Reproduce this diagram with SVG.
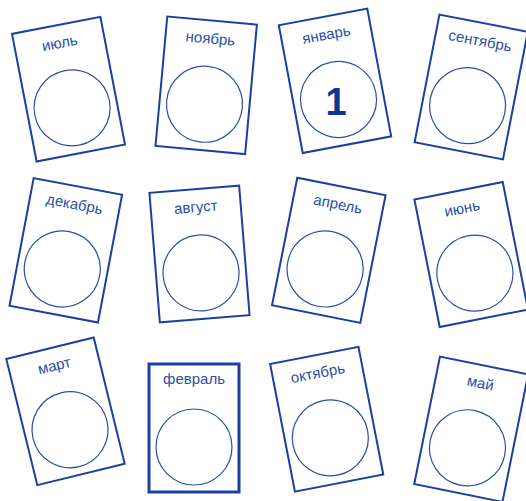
<svg xmlns="http://www.w3.org/2000/svg" width="526" height="501" viewBox="0 0 526 501">
<style>
.card{fill:#fff;stroke:#1c40a0;stroke-width:2}
.bold{stroke-width:3}
.dial{fill:none;stroke:#2a4ea8;stroke-width:1.2}
.lbl{font-family:"Liberation Sans",Arial,sans-serif;font-size:15px;fill:#2a4ea8;text-anchor:middle}
.num{font-family:"Liberation Sans",Arial,sans-serif;font-size:38px;font-weight:bold;fill:#0d3596;text-anchor:middle}
</style>
<defs>
<g id="face">
<rect class="card" x="-45" y="-65" width="90" height="130"/>
<circle class="dial" cx="0" cy="19" r="38"/>
</g>
</defs>
<rect width="526" height="501" fill="#fff"/>
<g id="iyul" transform="translate(68.5,89.2) rotate(-10.9)"><use href="#face"/><text class="lbl" x="0" y="-42">июль</text></g>
<g id="noyabr" transform="translate(206.2,85.3) rotate(5.2)"><use href="#face"/><text class="lbl" x="0" y="-42">ноябрь</text></g>
<g id="yanvar"><g transform="translate(335,80.8) rotate(-10.6)"><use href="#face"/><text class="lbl" x="0" y="-42">январь</text></g><text class="num" x="336" y="115">1</text></g>
<g id="sentyabr" transform="translate(471.2,87) rotate(11)"><use href="#face"/><text class="lbl" x="0" y="-42">сентябрь</text></g>
<g id="dekabr" transform="translate(65.8,250.3) rotate(10.7)"><use href="#face"/><text class="lbl" x="0" y="-42">декабрь</text></g>
<g id="avgust" transform="translate(199.5,254) rotate(-4.6)"><use href="#face"/><text class="lbl" x="0" y="-42">август</text></g>
<g id="aprel" transform="translate(328.8,250.3) rotate(11.2)"><use href="#face"/><text class="lbl" x="0" y="-42">апрель</text></g>
<g id="iyun" transform="translate(471.2,254.5) rotate(-11.2)"><use href="#face"/><text class="lbl" x="0" y="-42">июнь</text></g>
<g id="mart" transform="translate(65.5,411.3) rotate(-13.8)"><use href="#face"/><text class="lbl" x="0" y="-42">март</text></g>
<g id="fevral" transform="translate(194,428)"><rect class="card bold" x="-45" y="-64" width="90" height="128"/><circle class="dial" cx="0" cy="19" r="38"/><text class="lbl" x="0" y="-44">февраль</text></g>
<g id="oktyabr" transform="translate(326.7,419.2) rotate(-11)"><use href="#face"/><text class="lbl" x="0" y="-42">октябрь</text></g>
<g id="may" transform="translate(471.2,429.2) rotate(11.4)"><use href="#face"/><text class="lbl" x="0" y="-42">май</text></g>
<g id="connectors"/>
</svg>
